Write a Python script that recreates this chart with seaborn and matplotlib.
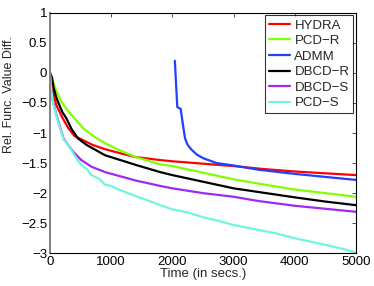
import numpy as np
import pandas as pd
import seaborn as sns
import matplotlib
matplotlib.use("Agg")
import matplotlib.pyplot as plt

# data (time in secs, rel. func. value diff.)
hydra_t = [0, 50, 100, 200, 300, 400, 500, 700, 900, 1200, 1400, 1800, 2000, 2500, 3000, 3500, 4000, 4500, 5000]
hydra_v = [0, -0.32, -0.53, -0.74, -0.92, -1.05, -1.10, -1.20, -1.27, -1.35, -1.40, -1.45, -1.47, -1.51, -1.55, -1.60, -1.64, -1.67, -1.70]

pcdr_t = [0, 50, 100, 185, 300, 400, 550, 750, 900, 1100, 1400, 1800, 2000, 2500, 3000, 3400, 4000, 4500, 5000]
pcdr_v = [0, -0.15, -0.30, -0.48, -0.64, -0.755, -0.93, -1.08, -1.17, -1.27, -1.40, -1.52, -1.55, -1.66, -1.77, -1.84, -1.94, -2.00, -2.06]

admm_t = [2040, 2060, 2080, 2135, 2170, 2206, 2250, 2315, 2400, 2505, 2723, 3000, 3400, 4000, 4500, 5000]
admm_v = [0.20, -0.20, -0.57, -0.60, -0.85, -1.09, -1.20, -1.28, -1.36, -1.42, -1.50, -1.54, -1.61, -1.68, -1.73, -1.78]

dbcdr_t = [0, 30, 60, 100, 130, 200, 267, 350, 457, 600, 900, 1400, 1800, 2000, 2500, 3000, 3400, 4000, 4500, 5000]
dbcdr_v = [0, -0.07, -0.25, -0.40, -0.48, -0.65, -0.755, -0.93, -1.09, -1.20, -1.37, -1.53, -1.65, -1.70, -1.81, -1.92, -1.98, -2.07, -2.14, -2.20]

dbcds_t = [0, 20, 49, 120, 220, 376, 512, 676, 900, 1400, 1800, 2000, 2500, 3000, 3400, 4000, 4500, 5000]
dbcds_v = [0, -0.30, -0.48, -0.755, -1.09, -1.31, -1.45, -1.56, -1.65, -1.79, -1.88, -1.92, -2.00, -2.06, -2.13, -2.21, -2.26, -2.31]

pcds_t = [0, 20, 50, 120, 220, 300, 376, 450, 512, 600, 676, 800, 900, 1000, 1100, 1250, 1400, 1600, 1800, 2000, 2250, 2500, 2750, 3000, 3400, 3700, 4000, 4500, 4800, 5000]
pcds_v = [0, -0.30, -0.50, -0.78, -1.10, -1.20, -1.33, -1.45, -1.53, -1.60, -1.70, -1.76, -1.86, -1.88, -1.93, -1.99, -2.05, -2.12, -2.20, -2.27, -2.32, -2.40, -2.46, -2.53, -2.61, -2.67, -2.75, -2.86, -2.93, -2.99]

series = [
    ("HYDRA", hydra_t, hydra_v, "#ff0000"),
    ("PCD\u2212R", pcdr_t, pcdr_v, "#80ff00"),
    ("ADMM", admm_t, admm_v, "#2040ff"),
    ("DBCD\u2212R", dbcdr_t, dbcdr_v, "#000000"),
    ("DBCD\u2212S", dbcds_t, dbcds_v, "#a028f0"),
    ("PCD\u2212S", pcds_t, pcds_v, "#70f5e0"),
]

sns.set_style("white")
plt.rcParams['font.family'] = ['Liberation Sans', 'DejaVu Sans']
plt.rcParams['axes.unicode_minus'] = True

fig = plt.figure(figsize=(3.74, 2.86), dpi=100)
ax = fig.add_axes([0.1337, 0.1143, 0.8183, 0.8413])

for name, t, v, col in series:
    sns.lineplot(x=t, y=v, ax=ax, color=col, label=name, lw=1.6, sort=False, estimator=None)

ax.set_xlim(0, 5000)
ax.set_ylim(-3, 1)
ax.set_xticks(np.arange(0, 5001, 1000))
ax.set_yticks(np.arange(-3, 1.01, 0.5))
ax.set_yticklabels(["\u22123", "\u22122.5", "\u22122", "\u22121.5", "\u22121", "\u22120.5", "0", "0.5", "1"])
ax.tick_params(direction="in", top=True, right=True, length=3, width=0.6, labelsize=9.5, pad=2, colors="#333333", labelcolor="black")
for s in ax.spines.values():
    s.set_linewidth(0.8)
    s.set_color("black")
ax.spines["left"].set_color("#808080")
ax.spines["left"].set_linewidth(1.4)

ax.set_xlabel("Time (in secs.)", fontsize=9.5, labelpad=0)
ax.set_ylabel("Rel. Func. Value Diff.", fontsize=9)
ax.yaxis.set_label_coords(-0.115, 0.66)

leg = ax.legend(loc="upper right", fontsize=9.5, frameon=True, fancybox=False, borderaxespad=0.2,
                handlelength=1.6, handletextpad=0.3, labelspacing=0.25, borderpad=0.3)
leg.get_frame().set_edgecolor("black")
leg.get_frame().set_linewidth(0.8)

fig.savefig("out.png", dpi=100)
